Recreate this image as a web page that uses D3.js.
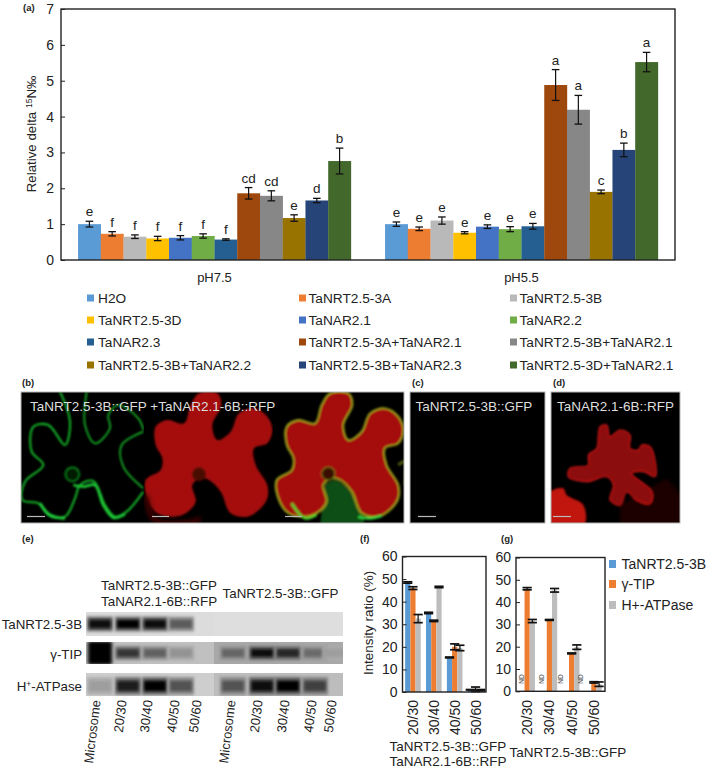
<!DOCTYPE html>
<html><head><meta charset="utf-8">
<script src="https://cdn.jsdelivr.net/npm/d3@7"></script>
<style>
html,body{margin:0;padding:0;background:#fff}
svg{display:block}
text{font-family:"Liberation Sans",Arial,sans-serif;fill:#222}
</style></head><body><svg id="c" width="709" height="768"></svg>
<script>
// ---------- (a) data
const treatments=["H2O","TaNRT2.5-3A","TaNRT2.5-3B","TaNRT2.5-3D","TaNAR2.1","TaNAR2.2","TaNAR2.3","TaNRT2.5-3A+TaNAR2.1","TaNRT2.5-3B+TaNAR2.1","TaNRT2.5-3B+TaNAR2.2","TaNRT2.5-3B+TaNAR2.3","TaNRT2.5-3D+TaNAR2.1"];
const treatmentColors=["#5B9BD5","#ED7D31","#B9B9B9","#FFC000","#4472C4","#70AD47","#255E91","#9E480E","#878787","#997300","#264478","#43682B"];
const phGroups=["pH7.5","pH5.5"];
const ph75=[1.0,0.73,0.65,0.60,0.62,0.67,0.57,1.86,1.79,1.17,1.66,2.76];
const ph75Err=[0.08,0.06,0.05,0.06,0.06,0.06,0.02,0.16,0.14,0.09,0.06,0.36];
const ph75Sig=["e","f","f","f","f","f","f","cd","cd","e","d","b"];
const ph55=[1.0,0.87,1.10,0.76,0.93,0.86,0.94,4.88,4.19,1.90,3.07,5.52];
const ph55Err=[0.06,0.05,0.10,0.03,0.05,0.07,0.08,0.43,0.40,0.05,0.19,0.27];
const ph55Sig=["e","e","e","e","e","e","e","a","a","c","b","a"];
const yTicksA=[0,1,2,3,4,5,6,7];
// ---------- (f)(g) data
const fractions=["20/30","30/40","40/50","50/60"];
const proteins=["TaNRT2.5-3B","γ-TIP","H+-ATPase"];
const proteinColors=["#5B9BD5","#ED7D31","#BDBDBD"];
const fBlue=[48.5,35,15.3,1], fBlueErr=[.3,.3,.2,.1];
const fOrange=[46,31.5,20,1.2], fOrangeErr=[.6,.3,1.3,1];
const fGray=[32.5,46.5,19.5,.8], fGrayErr=[1.8,.3,1.2,.3];
const gOrange=[46,32,17,4], gOrangeErr=[.5,.2,.2,.3];
const gGray=[31.5,45.3,19.8,3.2], gGrayErr=[.7,.8,1,1];
const yTicksF=[0,10,20,30,40,50,60];
// ---------- (e) blot data
const lanes=["Microsome","20/30","30/40","40/50","50/60"];
const blotRow1=[.95,.98,.92,.5,0,0,0,0,0,0];
const blotRow2=[1,.72,.48,.2,0,.45,.95,.8,.42,.14];
const blotRow3=[.14,.85,1,.55,0,.55,.95,1,.65,0];
const laneCentres=[100,128,155,181,203,233,262,288,315,335];
const laneLabelX=[96,122,148,175,197,231,258,285,312,332];
// ---------- micrograph outlines (3x-crop coordinates)
const cellOutline=[[920,60],[945,25],[1000,25],[1012,60],[985,120],[1000,165],[1040,140],[1065,85],[1110,70],[1150,95],[1165,135],[1150,175],[1110,190],[1115,240],[1150,300],[1150,340],[1130,370],[1090,395],[1040,385],[1010,320],[975,285],[950,280],[925,300],[935,350],[905,385],[870,395],[820,385],[790,340],[785,285],[830,255],[835,220],[815,180],[815,125],[850,105],[900,115]];
const greenLines=[
 [[135,20],[165,110],[150,180],[100,120],[55,125],[50,200],[85,240],[30,290],[22,345],[70,355],[105,388],[150,395],[180,340],[195,300],[235,288],[270,360],[300,395],[335,380],[385,320]],
 [[215,20],[210,120],[240,175],[285,130],[280,90],[310,60],[370,100],[385,135]],
 [[385,140],[320,180],[325,245],[385,310]]];
const cellD=[[660,125],[680,120],[690,155],[720,135],[750,150],[750,190],[775,195],[785,180],[810,185],[825,225],[825,275],[790,260],[755,265],[815,320],[810,355],[770,345],[740,320],[720,360],[690,345],[700,300],[680,275],[620,290],[565,275],[570,250],[625,240],[625,210],[650,190],[655,150]];
const cellD2=[[505,325],[550,310],[560,330],[610,360],[612,420],[505,420]];

const svg=d3.select("#c");
const defs=svg.append("defs");
[["soft",.8],["soft2",2],["band",1.5]].forEach(([id,s])=>defs.append("filter").attr("id",id).attr("x","-30%").attr("y","-30%").attr("width","160%").attr("height","160%").append("feGaussianBlur").attr("stdDeviation",s));

function txt(g,x,y,s,size,o={}){
  return g.append("text").attr("x",x).attr("y",y).attr("font-size",size)
    .attr("text-anchor",o.anchor||"start").attr("font-weight",o.weight||null)
    .style("fill",o.fill||null).text(s);
}
function errBars(g,rows,y,cap,sw){
  const s=g.selectAll("g.e").data(rows).join("g");
  s.append("line").attr("x1",d=>d.x).attr("x2",d=>d.x).attr("y1",d=>y(d.v+d.e)).attr("y2",d=>y(d.v-d.e)).attr("stroke","#111").attr("stroke-width",1.2);
  [1,-1].forEach(k=>s.append("line").attr("x1",d=>d.x-cap).attr("x2",d=>d.x+cap)
    .attr("y1",d=>y(d.v+k*d.e)).attr("y2",d=>y(d.v+k*d.e)).attr("stroke","#111").attr("stroke-width",sw));
}
function frame(g,x,y,stroke){
  const [l,r]=x; const [b,t]=y.range();
  g.append("rect").attr("x",l).attr("y",t).attr("width",r-l).attr("height",b-t).attr("fill","none").attr("stroke",stroke).attr("stroke-width",1.4);
}
function yAxis(g,y,left,ticks,size,pad){
  const a=g.append("g").attr("transform",`translate(${left},0)`).call(d3.axisLeft(y).tickValues(ticks).tickFormat(d3.format("d")).tickSizeInner(-4).tickSizeOuter(0).tickPadding(pad));
  a.select(".domain").remove();
  a.selectAll("line").attr("stroke","#222");
  a.selectAll("text").attr("font-size",size).attr("font-family",'"Liberation Sans",Arial,sans-serif').style("fill","#222");
}

// ---------- (a)
{
  const g=svg.append("g");
  const x0=d3.scaleBand().domain(phGroups).range([61,675]);
  const x1=d3.scaleBand().domain(treatments).range([0,x0.bandwidth()]).paddingOuter(0.75).paddingInner(0);
  const y=d3.scaleLinear().domain([0,7]).range([260,9]);
  [[ph75,ph75Err,ph75Sig],[ph55,ph55Err,ph55Sig]].forEach(([vals,errs,sig],k)=>{
    const rows=treatments.map((t,i)=>({t,v:vals[i],e:errs[i],s:sig[i],c:treatmentColors[i],x:x0(phGroups[k])+x1(t)+x1.bandwidth()/2}));
    g.selectAll(null).data(rows).join("rect").attr("x",d=>d.x-x1.bandwidth()/2).attr("width",x1.bandwidth()+.2)
      .attr("y",d=>y(d.v)).attr("height",d=>y(0)-y(d.v)).attr("fill",d=>d.c);
    errBars(g,rows,y,3.8,1.3);
    g.selectAll(null).data(rows).join("text").attr("x",d=>d.x).attr("y",d=>y(d.v+d.e)-5).attr("text-anchor","middle").attr("font-size",13.5).text(d=>d.s);
    txt(g,x0(phGroups[k])+x0.bandwidth()/2,282,phGroups[k],13,{anchor:"middle"});
  });
  frame(g,[61,675],y,"#222");
  yAxis(g,y,61,yTicksA,14,7);
  const lab=g.append("text").attr("transform","translate(36,134) rotate(-90)").attr("text-anchor","middle").attr("font-size",13.3);
  lab.append("tspan").text("Relative delta ");
  lab.append("tspan").attr("dy",-4).attr("font-size",8.5).text("15");
  lab.append("tspan").attr("dy",4).text("N‰");
  const colX=[87,299,510], rowY=[298,320,342,365];
  treatments.forEach((t,i)=>{
    const cx=colX[i%3], cy=rowY[Math.floor(i/3)];
    g.append("rect").attr("x",cx).attr("y",cy-3.5).attr("width",7).attr("height",7).attr("fill",treatmentColors[i]);
    txt(g,cx+(i%3?9.5:11),cy+4.5,t,13.7);
  });
}

// ---------- (b)(c)(d) micrographs
{
  const g=svg.append("g");
  const X=d3.scaleLinear().domain([0,1200]).range([15,415]);
  const Y=d3.scaleLinear().domain([0,420]).range([385,525]);
  const X2=d3.scaleLinear().domain([0,987]).range([380,709]);
  const closed=(xs,dx=0)=>d3.line().x(d=>xs(d[0]+dx)).y(d=>Y(d[1])).curve(d3.curveCatmullRomClosed.alpha(.5));
  const open=d3.line().x(d=>X(d[0])).y(d=>Y(d[1])).curve(d3.curveCatmullRom.alpha(.5));
  const panel=(id,x0,x1)=>{
    defs.append("clipPath").attr("id",id).append("rect").attr("x",x0).attr("y",392).attr("width",x1-x0).attr("height",131);
    g.append("rect").attr("x",x0).attr("y",392).attr("width",x1-x0).attr("height",131).attr("fill","#000");
    return g.append("g").attr("clip-path",`url(#${id})`);
  };
  // green
  const p1=panel("p1",21,144);
  const pg=p1.append("g").attr("filter","url(#soft)");
  greenLines.forEach((l,i)=>pg.append("path").attr("d",open(l)).attr("fill","none").attr("stroke","#16b52a").attr("stroke-width",i==0?2.1:1.7));
  pg.append("circle").attr("cx",X(172)).attr("cy",Y(268)).attr("r",7.2).attr("fill","#031a05").attr("stroke","#0f9a22").attr("stroke-width",1.2);
  pg.append("path").attr("d",open([[175,300],[205,305],[240,300],[265,360],[295,398],[330,388]])).attr("fill","none").attr("stroke","#1dc936").attr("stroke-width",2.8);
  pg.append("path").attr("d",open([[75,355],[105,392],[150,400]])).attr("fill","none").attr("stroke","#22d63d").attr("stroke-width",2.8);
  // red
  const p2=panel("p2",144,273);
  const pr=p2.append("g").attr("filter","url(#soft)");
  pr.append("path").attr("d",closed(X,-393)(cellOutline)).attr("fill","#a50f0c");
  pr.append("path").attr("d",open([[395,330],[420,405],[540,410],[555,400]])).attr("fill","none").attr("stroke","#4a0604").attr("stroke-width",5).attr("filter","url(#soft2)");
  pr.append("circle").attr("cx",X(552)).attr("cy",Y(268)).attr("r",7).attr("fill","#4a0706");
  // merged
  const p3=panel("p3",273,404);
  const pm=p3.append("g").attr("filter","url(#soft)");
  pm.append("path").attr("d",open([[930,300],[960,285],[1005,320],[1045,420],[915,420]])).attr("fill","#0d4d12");
  pm.append("path").attr("d",closed(X)(cellOutline)).attr("fill","#a50f0c").attr("stroke","#9aa51c").attr("stroke-width",1.9);
  pm.append("circle").attr("cx",X(940)).attr("cy",Y(266)).attr("r",6.6).attr("fill","#3a0806").attr("stroke","#6a8a18");
  pm.append("path").attr("d",open([[1030,395],[1065,400],[1100,392]])).attr("fill","none").attr("stroke","#2fd83f").attr("stroke-width",2.6);
  pm.append("path").attr("d",open([[830,355],[870,400],[905,390]])).attr("fill","none").attr("stroke","#49d832").attr("stroke-width",2.4);
  pm.append("path").attr("d",open([[1150,240],[1170,230],[1170,300]])).attr("fill","none").attr("stroke","#4b5a10").attr("stroke-width",3);
  // c
  panel("p4",410,545);
  // d
  const p5=panel("p5",551,680);
  const pd=p5.append("g").attr("filter","url(#soft)");
  pd.append("path").attr("d",d3.line().x(d=>X2(d[0])).y(d=>Y(d[1]))([[720,360],[860,280],[905,330],[905,420],[720,420]])).attr("fill","#1c0201").attr("filter","url(#soft2)");
  pd.append("path").attr("d",closed(X2)(cellD)).attr("fill","#8b0f0d").attr("stroke","#d5181a").attr("stroke-width",1.1);
  pd.append("path").attr("d",closed(X2)(cellD2)).attr("fill","#c01311");
  [[21,404],[410,545],[551,680]].forEach(([a,b])=>g.append("rect").attr("x",a).attr("y",392).attr("width",b-a).attr("height",131).attr("fill","none").attr("stroke","#b5b5b5").attr("stroke-width",1));
  [[27,45],[152,169],[285,302],[418,436],[553,571]].forEach(([a,b])=>g.append("line").attr("x1",a).attr("x2",b).attr("y1",516.5).attr("y2",516.5).attr("stroke","#bbb").attr("stroke-width",1.2));
  const w={fill:"#dedede"};
  txt(g,30,410.5,"TaNRT2.5-3B::GFP +TaNAR2.1-6B::RFP",13.5,w);
  txt(g,415.5,410.5,"TaNRT2.5-3B::GFP",13.5,w);
  txt(g,557,410.5,"TaNAR2.1-6B::RFP",13.5,w);
}

// ---------- (e) blots
{
  const g=svg.append("g");
  const xL=d3.scaleOrdinal(d3.range(10),laneCentres);
  const rowsG=[{vals:blotRow1,y0:612,y1:636,cy:624,h:13,bg:"#dcdcdc",bg2:"#dedede"},
               {vals:blotRow2,y0:642,y1:664,cy:653,h:12,bg:"#c0c0c0",bg2:"#a8a8a8"},
               {vals:blotRow3,y0:673,y1:696,cy:686,h:16,bg:"#cecece",bg2:"#bdbdbd"}];
  const shade=d3.scaleLinear().domain([0,1]).range(["#b8b8b8","#000"]);
  rowsG.forEach((r,ri)=>{
    const id="blot"+ri;
    defs.append("clipPath").attr("id",id).append("rect").attr("x",86).attr("y",r.y0).attr("width",257).attr("height",r.y1-r.y0);
    g.append("rect").attr("x",86).attr("y",r.y0).attr("width",128).attr("height",r.y1-r.y0).attr("fill",r.bg);
    g.append("rect").attr("x",214).attr("y",r.y0).attr("width",129).attr("height",r.y1-r.y0).attr("fill",r.bg2);
    const c=g.append("g").attr("clip-path",`url(#${id})`);
    r.vals.forEach((v,i)=>{
      if(v===0) return;
      const cx=xL(i), w=22;
      const big=ri==1&&i==0;
      c.append("rect").attr("x",cx-w/2-2).attr("y",big?r.y0:r.cy-r.h/2-1).attr("width",w+4).attr("height",big?r.y1-r.y0:r.h+2)
        .attr("fill",shade(v*.5)).attr("opacity",.85).attr("filter","url(#band)");
      c.append("rect").attr("x",cx-w/2).attr("y",big?r.y0:r.cy-r.h/3).attr("width",w).attr("height",big?r.y1-r.y0:r.h*2/3)
        .attr("fill",shade(v)).attr("filter","url(#band)");
    });
  });
  txt(g,82,629,"TaNRT2.5-3B",13.3,{anchor:"end"});
  txt(g,82,659,"γ-TIP",13.3,{anchor:"end"});
  const h=g.append("text").attr("x",82).attr("y",691).attr("text-anchor","end").attr("font-size",13.3);
  h.append("tspan").text("H");h.append("tspan").attr("dy",-4).attr("font-size",8.5).text("+");h.append("tspan").attr("dy",4).text("-ATPase");
  txt(g,101,590,"TaNRT2.5-3B::GFP",13.4);
  txt(g,101,606,"TaNAR2.1-6B::RFP",13.4);
  txt(g,222.5,598,"TaNRT2.5-3B::GFP",13.4);
  laneLabelX.forEach((x,i)=>{
    g.append("text").attr("transform",`translate(${x},700) rotate(-83)`).attr("text-anchor","end").attr("dy",".36em").attr("font-size",13).text(lanes[i%5]);
  });
}

// ---------- (f)(g)
function ratioChart(left,right,top,bottom,series){
  const g=svg.append("g");
  const x=d3.scaleBand().domain(fractions).range([left,right]);
  const y=d3.scaleLinear().domain([0,60]).range([bottom,top]);
  const barW=5.2;
  series.forEach(s=>{
    const rows=fractions.map((f,i)=>({f,v:s.vals[i],e:s.errs[i],x:x(f)+x.bandwidth()/2+(s.off)*barW}));
    g.selectAll(null).data(rows).join("rect").attr("x",d=>d.x-barW/2).attr("width",barW).attr("y",d=>y(d.v)).attr("height",d=>y(0)-y(d.v)).attr("fill",s.c);
    s.rows=rows;
  });
  series.forEach(s=>errBars(g,s.rows,y,4.6,1.7));
  frame(g,[left,right],y,"#222");
  yAxis(g,y,left,yTicksF,14,5);
  fractions.forEach(f=>{
    g.append("text").attr("transform",`translate(${x(f)+x.bandwidth()/2},700) rotate(-90)`).attr("text-anchor","end").attr("dy",".36em").attr("font-size",14).text(f);
  });
  return {g,x,y};
}
{
  const {g}=ratioChart(402.5,486,556.5,692,[
    {vals:fBlue,errs:fBlueErr,c:proteinColors[0],off:-1},
    {vals:fOrange,errs:fOrangeErr,c:proteinColors[1],off:0},
    {vals:fGray,errs:fGrayErr,c:proteinColors[2],off:1}]);
  g.append("text").attr("transform","translate(373,623) rotate(-90)").attr("text-anchor","middle").attr("font-size",13.4).text("Intensity ratio (%)");
  txt(g,389.5,751,"TaNRT2.5-3B::GFP",13.5);
  txt(g,389.5,766,"TaNAR2.1-6B::RFP",13.5);
}
{
  const {g,y}=ratioChart(516,605,557.5,691.3,[
    {vals:gOrange,errs:gOrangeErr,c:proteinColors[1],off:0},
    {vals:gGray,errs:gGrayErr,c:proteinColors[2],off:1}]);
  const nd=d3.scalePoint().domain(fractions).range([521.7,580.7]);
  fractions.forEach(f=>g.append("text").attr("transform",`translate(${nd(f)},${y(5.5)}) rotate(-90)`).attr("text-anchor","middle").attr("dy",".35em").attr("font-size",6.5).style("fill","#444").text("ND"));
  txt(g,509.5,757,"TaNRT2.5-3B::GFP",13.5);
  const ly=[564,584,605];
  proteins.forEach((p,i)=>{
    g.append("rect").attr("x",609).attr("y",ly[i]-4).attr("width",7).attr("height",8).attr("fill",proteinColors[i]);
    txt(g,621.5,ly[i]+5,p,14);
  });
}
// ---------- panel letters
const panelLetters=["(a)","(b)","(c)","(d)","(e)","(f)","(g)"];
const letterX=[23,22,412,553,22,360,501], letterY=[11,386,386,386,542,542,542];
panelLetters.forEach((l,i)=>txt(svg,letterX[i],letterY[i],l,9.5,{weight:"bold"}));
</script></body></html>
